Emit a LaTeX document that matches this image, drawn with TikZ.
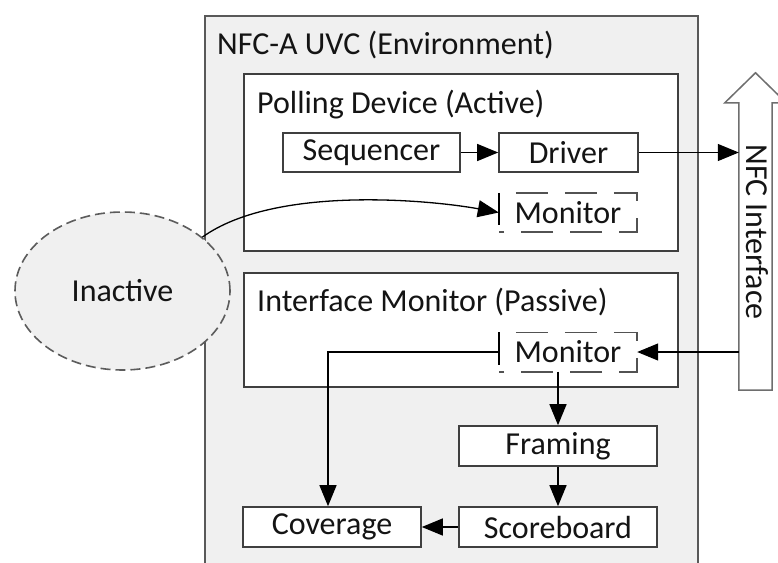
\documentclass[tikz,border=0pt]{standalone}
\usepackage{fontspec}
\setmainfont{Carlito}
\usetikzlibrary{arrows.meta,shapes.geometric}
\definecolor{envfill}{HTML}{F0F0F0}
\definecolor{envedge}{HTML}{595959}
\definecolor{boxedge}{HTML}{3F3F3F}
\definecolor{nfcedge}{HTML}{6E6E6E}
\definecolor{txt}{HTML}{141414}
\begin{document}
\begin{tikzpicture}[x=1pt, y=-1pt,
  lbl/.style={font=\fontsize{32}{38}\selectfont, text=txt, inner sep=0pt},
  panel/.style={draw=boxedge, fill=white, line width=1.6pt, inner sep=0pt, anchor=north west},
  box/.style={lbl, draw=boxedge, fill=white, line width=1.6pt},
  monframe/.style={draw=boxedge!90, line width=1.6pt, dash pattern=on 32pt off 17pt, dash phase=32pt},
  monbar/.style={draw=black, line width=1.4pt},
  arr/.style={draw=black, line width=1.3pt, -{Triangle[length=21pt, width=17pt]}}]

\useasboundingbox (0,0) rectangle (778,562);
\clip (0,0) rectangle (778,562);

% environment frame, running past the lower edge
\node[draw=envedge, fill=envfill, line width=1.5pt, inner sep=0pt,
      minimum width=493pt, minimum height=620pt, anchor=north west] (env) at (204,15) {};
\node[lbl, anchor=base west] (envtitle) at (217,54) {NFC-A UVC (Environment)};

% inactive agent
\node[lbl, draw=boxedge!85, fill=envfill, line width=1.6pt, dash pattern=on 10pt off 5pt,
      ellipse, minimum width=215pt, minimum height=158pt] (inactive) at (122.5,291) {Inactive};

% polling device (active)
\node[panel, minimum width=434pt, minimum height=177pt] (poll) at (243,73) {};
\node[lbl, anchor=base west] (polltitle) at (257,113) {Polling Device (Active)};
\node[box, minimum width=177pt, minimum height=39pt] (seq) at (371.5,152.5) {Sequencer};
\node[box, minimum width=139pt, minimum height=39pt] (drv) at (568.5,152.5) {Driver};
\node[lbl, minimum width=138pt, minimum height=39pt] (mon1) at (568,212.5) {Monitor};
\draw[monframe] (mon1.north west) -- (mon1.north east) -- (mon1.south east) -- (mon1.south west);
\draw[monbar] (mon1.north west) -- ([yshift=7pt]mon1.south west);

% interface monitor (passive)
\node[panel, minimum width=434pt, minimum height=114pt] (intf) at (243,272) {};
\node[lbl, anchor=base west] (intftitle) at (257,311) {Interface Monitor (Passive)};
\node[lbl, minimum width=138pt, minimum height=39pt] (mon2) at (568,352) {Monitor};
\draw[monframe] (mon2.north west) -- (mon2.north east) -- (mon2.south east) -- (mon2.south west);
\draw[monbar] (mon2.north west) -- ([yshift=7pt]mon2.south west);

% analysis chain
\node[box, minimum width=198pt, minimum height=40pt] (fram) at (558,446) {Framing};
\node[box, minimum width=198pt, minimum height=40pt] (score) at (558,527) {Scoreboard};
\node[box, minimum width=178pt, minimum height=40pt] (cov) at (332,527) {Coverage};

% NFC interface block arrow
\node[inner sep=0pt, minimum width=33pt, minimum height=287pt] (nfc) at (755.5,246.5) {};
\draw[draw=nfcedge, fill=white, line width=1.5pt, line join=miter]
  (nfc.south west) -- (nfc.north west) -- ([xshift=-14pt]nfc.north west)
  -- ([yshift=30pt]nfc.north) -- ([xshift=14pt]nfc.north east)
  -- (nfc.north east) -- (nfc.south east) -- cycle;
\node[lbl, rotate=-90] (nfctext) at (757,232) {NFC Interface};

% connectors
\draw[arr] (seq.east) -- (drv.west);
\draw[arr] (drv.east) -- (drv.east -| nfc.west);
\draw[arr] (inactive.34) .. controls (275,185) and (430,200) .. (mon1.west);
\draw[arr] (nfc.west |- mon2.east) -- (mon2.east);
\draw[arr] (mon2.west) -| ([xshift=-4pt]cov.north);
\draw[arr] (fram.north |- mon2.south) -- (fram.north);
\draw[arr] (fram.south) -- (score.north);
\draw[arr] (score.west) -- (cov.east);
\end{tikzpicture}
\end{document}
